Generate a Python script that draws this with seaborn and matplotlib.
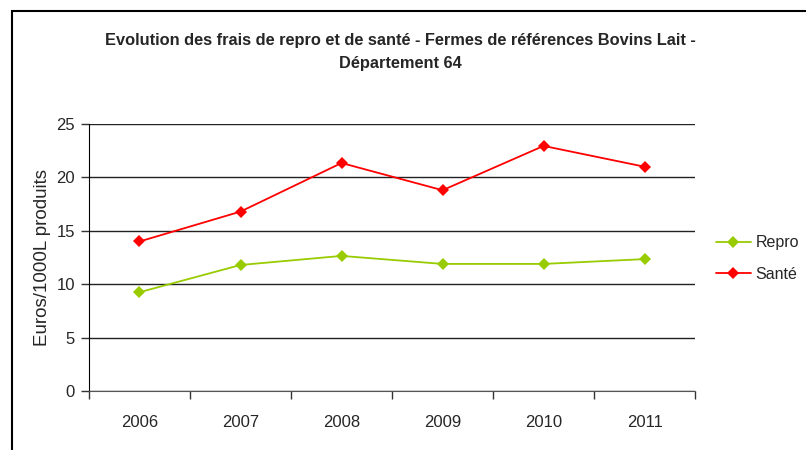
import pandas as pd
import seaborn as sns
import matplotlib.pyplot as plt
from matplotlib.patches import Rectangle
from matplotlib.ticker import FixedLocator

years = ["2006", "2007", "2008", "2009", "2010", "2011"]
repro = [9.25, 11.8, 12.65, 11.9, 11.9, 12.35]
sante = [14.0, 16.8, 21.35, 18.8, 22.95, 21.0]
series_names = ["Repro", "Santé"]
colors = ["#99CC00", "#FF0000"]

rows = []
for name, vals in zip(series_names, [repro, sante]):
    for y, v in zip(years, vals):
        rows.append({"year": y, "value": v, "serie": name})
df = pd.DataFrame(rows)

sns.set_style("white")
plt.rcParams['font.family'] = ['Liberation Sans', 'DejaVu Sans']

fig = plt.figure(figsize=(8.06, 4.5), dpi=100)
ax = fig.add_axes([0.1104, 0.1311, 0.752, 0.5933])

sns.lineplot(data=df, x="year", y="value", hue="serie", palette=colors,
             style="serie", markers=["D", "D"], dashes=False, markersize=6,
             markeredgewidth=0, linewidth=1.3, ax=ax)

ax.set_xlim(-0.5, 5.5)
ax.set_ylim(0, 25)
ax.set_yticks([0, 5, 10, 15, 20, 25])
ax.yaxis.grid(True, color="#222222", linewidth=1)
ax.set_axisbelow(True)
ax.tick_params(axis="y", labelsize=12, length=6, width=1, color="#333333",
               left=True, pad=4)
ax.tick_params(axis="x", which="major", labelsize=12, length=0, pad=17)
ax.xaxis.set_minor_locator(FixedLocator([i - 0.5 for i in range(7)]))
ax.tick_params(axis="x", which="minor", length=6, width=1, color="#333333",
               bottom=True)
for s in ["top", "right"]:
    ax.spines[s].set_visible(False)
ax.spines["left"].set_color("black")
ax.spines["bottom"].set_color("#555555")
ax.set_xlabel("")
ax.set_ylabel("Euros/1000L produits", fontsize=13.5, labelpad=4)

handles, labels = ax.get_legend_handles_labels()
ax.legend(handles, labels, loc="center left", bbox_to_anchor=(1.01, 0.496),
          frameon=False, fontsize=11.5, handlelength=2.2, handletextpad=0.3,
          labelspacing=1.05)

fig.text(0.497, 0.91, "Evolution des frais de repro et de santé - Fermes de références Bovins Lait -",
         ha="center", va="center", fontsize=11.8, fontweight="bold")
fig.text(0.497, 0.858, "Département 64", ha="center", va="center",
         fontsize=11.8, fontweight="bold")

fig.patches.append(Rectangle((12 / 806, -0.05), 1.0, 1 - 11 / 450 + 0.05,
                             transform=fig.transFigure, fill=False,
                             edgecolor="black", linewidth=1.5))

fig.savefig("out.png", dpi=100)
